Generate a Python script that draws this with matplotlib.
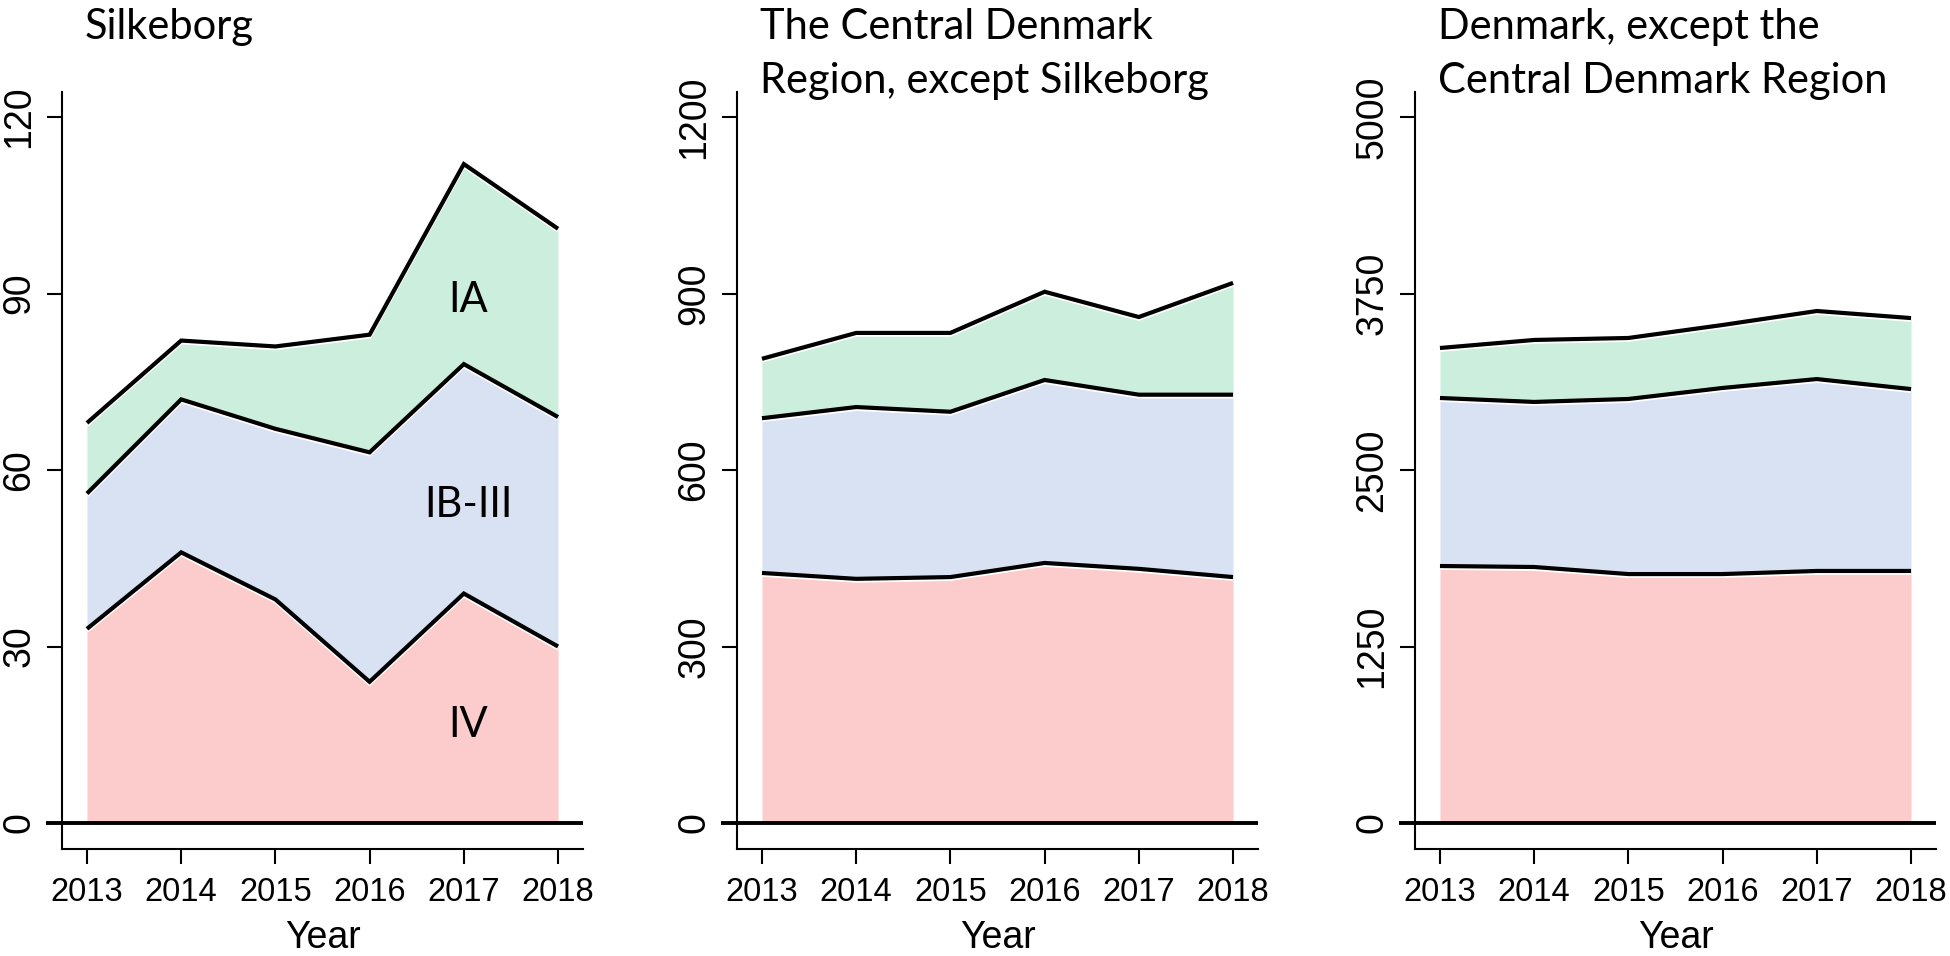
import matplotlib
matplotlib.use("Agg")
import matplotlib.pyplot as plt
import matplotlib.patheffects as pe
from matplotlib.transforms import blended_transform_factory
import numpy as np

# ---------------- data ----------------
years = [2013, 2014, 2015, 2016, 2017, 2018]

# Silkeborg
silk_iv = [33, 46, 38, 24, 39, 30]
silk_ib3 = [23, 26, 29, 39, 39, 39]
silk_ia = [12, 10, 14, 20, 34, 32]

# The Central Denmark Region, except Silkeborg
reg_iv = [425, 415, 418, 442, 432, 418]
reg_ib3 = [263, 292, 281, 311, 296, 310]
reg_ia = [101, 126, 134, 150, 132, 190]

# Denmark, except the Central Denmark Region
dk_iv = [1820, 1813, 1763, 1763, 1785, 1785]
dk_ib3 = [1190, 1169, 1240, 1318, 1359, 1288]
dk_ia = [354, 439, 432, 446, 482, 503]

titles = [["Silkeborg"],
          ["The Central Denmark", "Region, except Silkeborg"],
          ["Denmark, except the", "Central Denmark Region"]]
yticks = [[0, 30, 60, 90, 120],
          [0, 300, 600, 900, 1200],
          [0, 1250, 2500, 3750, 5000]]
stage_labels = ["IA", "IB-III", "IV"]
year_labels = [str(y) for y in years]

panels = [(silk_iv, silk_ib3, silk_ia),
          (reg_iv, reg_ib3, reg_ia),
          (dk_iv, dk_ib3, dk_ia)]

# ---------------- style ----------------
PINK = "#FCCBCB"
BLUE = "#D9E2F3"
GREEN = "#CCEEDC"
TICKFONT = ["Liberation Sans", "DejaVu Sans"]
TITLEFONT = ["Lato", "DejaVu Sans"]

W, H = 1950, 956
fig = plt.figure(figsize=(W / 100, H / 100), dpi=100)

lefts_px = [62, 737, 1415]
ax_w_px = 521
ax_bottom_px = 849
ax_top_px = 92

for i, (iv, ib3, ia) in enumerate(panels):
    ax = fig.add_axes([lefts_px[i] / W, (H - ax_bottom_px) / H,
                       ax_w_px / W, (ax_bottom_px - ax_top_px) / H])
    iv = np.array(iv, dtype=float)
    s1 = iv
    s2 = s1 + np.array(ib3, dtype=float)
    s3 = s2 + np.array(ia, dtype=float)

    ax.fill_between(years, 0, s1, color=PINK, lw=0, zorder=1)
    ax.fill_between(years, s1, s2, color=BLUE, lw=0, zorder=1)
    ax.fill_between(years, s2, s3, color=GREEN, lw=0, zorder=1)

    for s in (s1, s2, s3):
        ax.plot(years, s, color="black", lw=3.0, zorder=3,
                solid_joinstyle="miter", solid_capstyle="butt",
                path_effects=[pe.SimpleLineShadow(offset=(0, -1.3),
                                                  shadow_color="white",
                                                  alpha=1.0, rho=1.0),
                              pe.Normal()])

    top = yticks[i][-1]
    ax.set_ylim(-top * 26 / 706, top * (1 + 25 / 706))
    ax.set_xlim(2012.735, 2018.265)

    # thick zero line, reaching out over the tick at 0
    ax.plot([-0.031, 1], [0, 0], transform=ax.get_yaxis_transform(),
            color="black", lw=2.8, clip_on=False, zorder=4,
            solid_capstyle="butt")

    ax.set_xticks(years)
    ax.set_xticklabels(year_labels, fontsize=23.5, family=TICKFONT)
    ax.set_yticks(yticks[i])
    ax.set_yticklabels([str(v) for v in yticks[i]], fontsize=27,
                       family=TICKFONT, rotation=90, va="center")

    ax.tick_params(axis="both", length=10.8, width=1.5, color="black")
    ax.tick_params(axis="x", pad=9.5)
    ax.tick_params(axis="y", pad=7)
    for side in ("top", "right"):
        ax.spines[side].set_visible(False)
    for side in ("left", "bottom"):
        ax.spines[side].set_linewidth(1.5)

    ax.set_xlabel("Year", fontsize=27, family=TICKFONT)
    ax.xaxis.set_label_coords(0.5, -0.094)

    tr = blended_transform_factory(ax.transData, fig.transFigure)
    baselines = [39, 93]
    for j, line in enumerate(titles[i]):
        ax.text(2012.98, 1 - baselines[j] / H, line, transform=tr,
                ha="left", va="baseline", fontsize=30, family=TITLEFONT)

    if i == 0:
        lab_y = [88.9, 54.0, 16.7]
        for lab, y in zip(stage_labels, lab_y):
            ax.text(2017.05, y, lab, ha="center", va="center",
                    fontsize=30, family=TITLEFONT, zorder=5)

fig.savefig("out.png", dpi=100)
